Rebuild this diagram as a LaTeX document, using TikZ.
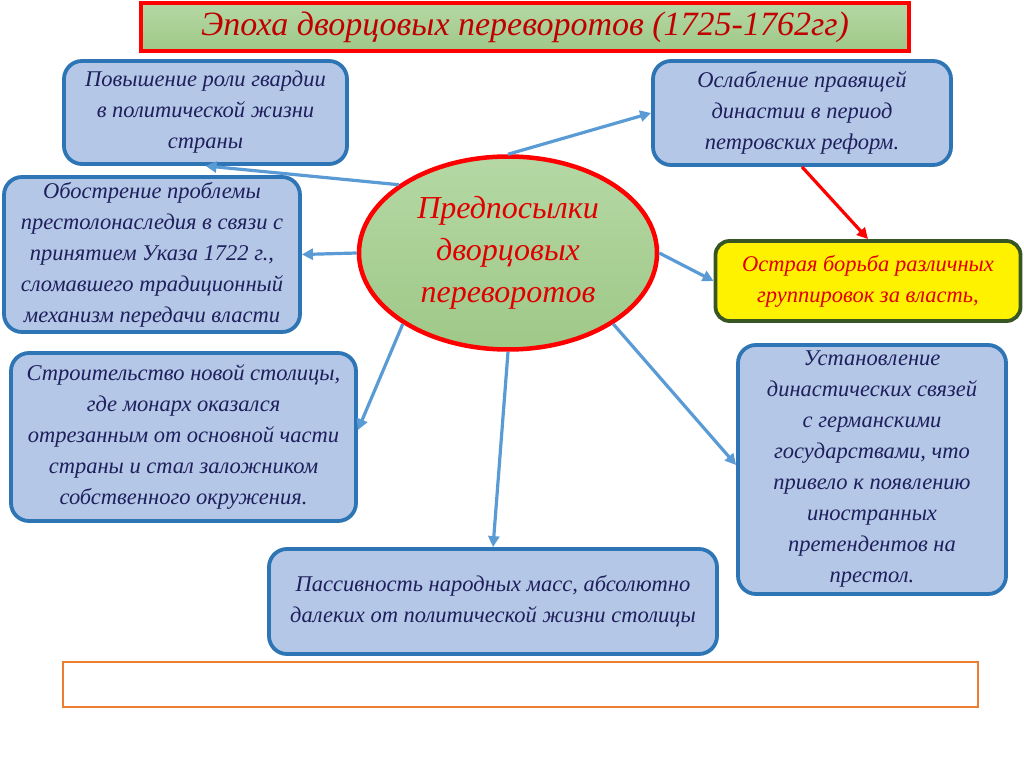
\documentclass[tikz,border=0pt]{standalone}
\usepackage{fontspec}
\setmainfont{Liberation Serif}
\usetikzlibrary{shapes.geometric,arrows.meta}
\definecolor{boxfill}{HTML}{B4C7E7}
\definecolor{boxline}{HTML}{2E75B6}
\definecolor{navy}{HTML}{1F1F5C}
\definecolor{arrowblue}{HTML}{5B9BD5}
\definecolor{redtxt}{HTML}{E00000}
\definecolor{titlered}{HTML}{C00000}
\definecolor{greenA}{HTML}{B5D8A4}
\definecolor{greenB}{HTML}{9FC888}
\definecolor{yelline}{HTML}{375623}
\definecolor{orangeline}{HTML}{ED7D31}
\tikzset{
  infobox/.style={draw=boxline, line width=3.8pt, fill=boxfill, rounded corners=18pt,
    align=center, text=navy, font=\fontsize{22.5}{31}\selectfont\itshape, inner sep=2pt},
  yelbox/.style={draw=yelline, line width=3.8pt, fill=yellow, rounded corners=14pt,
    align=center, text=redtxt, font=\fontsize{22.5}{31}\selectfont\itshape, inner sep=2pt},
  conn/.style={draw=arrowblue, line width=3.2pt, -{Triangle[length=11pt,width=11pt]}},
  redconn/.style={draw=red, line width=3.2pt, -{Triangle[length=11pt,width=11pt]}},
}
\begin{document}
\begin{tikzpicture}[x=1pt,y=-1pt]
\useasboundingbox (0,0) rectangle (1024,767);
\fill[white] (0,0) rectangle (1024,767);
% title
\node[draw=red, line width=4.5pt, top color=greenA, bottom color=greenB, minimum width=768pt,
  minimum height=48pt, text=titlered, font=\fontsize{34}{38}\selectfont\itshape] (title) at (525,27)
  {Эпоха дворцовых переворотов (1725-1762гг)};
% central ellipse
\node[ellipse, draw=red, line width=4.5pt, top color=greenA, bottom color=greenB,
  minimum width=298pt, minimum height=193pt, inner sep=0pt, align=center, text=redtxt,
  font=\fontsize{32}{42}\selectfont\itshape] (ell) at (508,253)
  {Предпосылки\\дворцовых\\переворотов};
% boxes
\node[infobox, minimum width=283pt, minimum height=103pt] (b1) at (205.5,112.5)
  {Повышение роли гвардии\\в политической жизни\\страны};
\node[infobox, minimum width=296pt, minimum height=155pt] (b2) at (152,254.5)
  {Обострение проблемы\\престолонаследия в связи с\\принятием Указа 1722 г.,\\сломавшего традиционный\\механизм передачи власти};
\node[infobox, minimum width=345pt, minimum height=168pt] (b3) at (183.5,437)
  {Строительство новой столицы,\\где монарх оказался\\отрезанным от основной части\\страны и стал заложником\\собственного окружения.};
\node[infobox, minimum width=298pt, minimum height=104pt] (b4) at (802,113)
  {Ослабление правящей\\династии в период\\петровских реформ.};
\node[yelbox, minimum width=305pt, minimum height=80pt] (b5) at (868,281)
  {Острая борьба различных\\группировок за власть,};
\node[infobox, minimum width=268pt, minimum height=249pt] (b6) at (872,469.5)
  {Установление\\династических связей\\с германскими\\государствами, что\\привело к появлению\\иностранных\\претендентов на\\престол.};
\node[infobox, minimum width=448pt, minimum height=105pt] (b7) at (493,601.5)
  {Пассивность народных масс, абсолютно\\далеких от политической жизни столицы};
% empty bottom frame
\node[draw=orangeline, line width=1.2pt, fill=white, minimum width=915pt, minimum height=45pt,
  inner sep=0pt] (frame) at (520.5,684.5) {};
% connectors
\draw[conn] (ell.148) -- (b1.south);
\draw[conn] (ell.west) -- (b2.east);
\draw[conn] (ell.214) -- ([yshift=7pt]b3.east);
\draw[conn] (ell.north) -- (b4.west);
\draw[conn] (ell.east) -- (b5.west);
\draw[conn] (ell.-34) -- ([yshift=4.5pt]b6.west);
\draw[conn] (ell.south) -- (b7.north);
\draw[redconn] (b4.south) -- (b5.north);
\end{tikzpicture}
\end{document}
